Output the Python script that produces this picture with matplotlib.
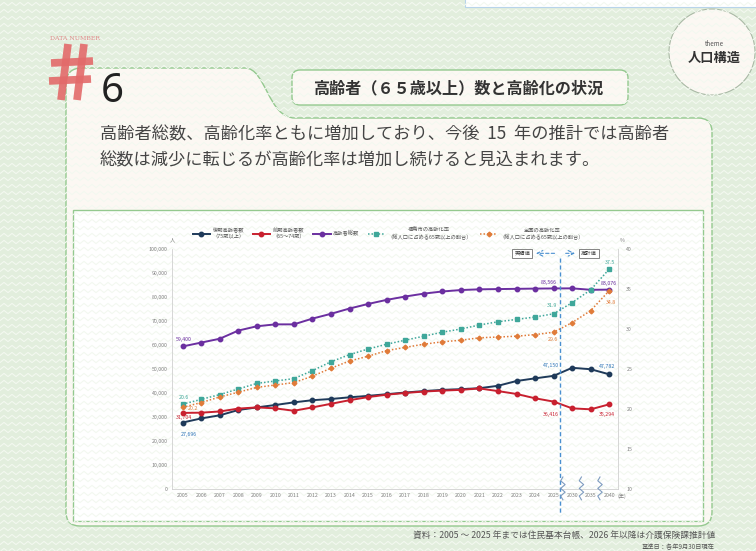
# Elderly population and aging rate chart (infographic page #6)
import numpy as np
import matplotlib.pyplot as plt
import matplotlib.transforms as mtransforms
from matplotlib.path import Path
from matplotlib.patches import PathPatch, FancyBboxPatch, Rectangle, Circle
from matplotlib.lines import Line2D
from matplotlib.collections import LineCollection

plt.rcParams['font.family'] = ['Noto Sans CJK JP', 'DejaVu Sans']

# data
years = ['2005', '2006', '2007', '2008', '2009', '2010', '2011', '2012', '2013', '2014',
         '2015', '2016', '2017', '2018', '2019', '2020', '2021', '2022', '2023', '2024',
         '2025', '2030', '2035', '2040']
late_elderly = [27696, 29400, 30700, 32900, 34000, 35000, 36100, 37000, 37500, 38200,
                38800, 39500, 40200, 40800, 41300, 41600, 42000, 43000, 45000, 46100,
                47150, 50500, 49900, 47782]
early_elderly = [31704, 31800, 32300, 33500, 34000, 33600, 32600, 34000, 35500, 37000,
                 38300, 39300, 40000, 40600, 41000, 41300, 41900, 40800, 39600, 37800,
                 36416, 33600, 33200, 35294]
elderly_total = [59400, 61000, 62600, 66000, 67800, 68600, 68600, 71000, 73000, 75200,
                 77100, 78800, 80200, 81400, 82300, 82900, 83200, 83300, 83400, 83500,
                 83566, 83600, 83000, 83076]
city_rate = [20.6, 21.2, 21.8, 22.5, 23.2, 23.5, 23.8, 24.8, 25.9, 26.8,
             27.5, 28.1, 28.6, 29.1, 29.6, 30.0, 30.5, 30.9, 31.2, 31.5,
             31.9, 33.3, 34.9, 37.5]
national_rate = [20.2, 20.8, 21.5, 22.1, 22.7, 23.0, 23.3, 24.1, 25.1, 26.0,
                 26.6, 27.3, 27.7, 28.1, 28.4, 28.6, 28.9, 29.0, 29.1, 29.3,
                 29.6, 30.8, 32.3, 34.8]
series_names = ['後期高齢者数\n（75歳以上）', '前期高齢者数\n（65～74歳）', '高齢者総数',
                '福島市の高齢化率\n（総人口に占める65歳以上の割合）',
                '全国の高齢化率\n（総人口に占める65歳以上の割合）']

NAVY = '#1f3a5a'
RED = '#c8202f'
PURPLE = '#6b2fa0'
TEAL = '#3fa79a'
ORANGE = '#e07b39'
LBLUE = '#2e75b6'
GREEN = '#94c98f'
CREAM = '#fcf8f3'

fig = plt.figure(figsize=(7.56, 5.51), dpi=100)

# background layer in pixel coordinates
bg = fig.add_axes([0, 0, 1, 1], zorder=0)
bg.set_xlim(0, 756)
bg.set_ylim(551, 0)
bg.axis('off')
bg.add_patch(Rectangle((0, 0), 756, 551, facecolor='#e2eedd', edgecolor='none'))
segs = []
zx = np.arange(-4, 764, 4)
for ry in np.arange(-3, 560, 7):
    zy = ry + np.where(np.arange(len(zx)) % 2 == 0, -1.6, 1.6)
    segs.append(np.column_stack([zx, zy]))
bg.add_collection(LineCollection(segs, colors='#f3f8f0', linewidths=0.8))
bg.add_patch(Rectangle((465, -3), 300, 10, facecolor='white', edgecolor='#b8d4ea', lw=0.8))

# cream card with tab
verts = [(66, 84), (66, 68), (82, 68), (245, 68), (266, 68), (268, 118), (295, 118),
         (698, 118), (712, 118), (712, 132), (712, 512), (712, 526), (698, 526),
         (80, 526), (66, 526), (66, 512), (66, 84)]
codes = [Path.MOVETO, Path.CURVE3, Path.CURVE3, Path.LINETO, Path.CURVE4, Path.CURVE4,
         Path.CURVE4, Path.LINETO, Path.CURVE3, Path.CURVE3, Path.LINETO, Path.CURVE3,
         Path.CURVE3, Path.LINETO, Path.CURVE3, Path.CURVE3, Path.CLOSEPOLY]
bg.add_patch(PathPatch(Path(verts, codes), facecolor=CREAM, edgecolor=GREEN, lw=1))

# title box
bg.add_patch(FancyBboxPatch((292, 70), 336, 35, boxstyle='round,pad=0,rounding_size=8',
                            facecolor=CREAM, edgecolor=GREEN, lw=1))
bg.text(458, 88, '高齢者（６５歳以上）数と高齢化の状況', fontsize=11.6, fontweight='bold',
        color='#333333', ha='center', va='center')

# "#" mark and number
for (x0, y0, x1, y1) in [(68, 44, 61, 100), (84, 44, 77, 100), (51, 63, 93, 61), (49, 81, 91, 79)]:
    bg.plot([x0, x1], [y0, y1], color='#e36a6a', lw=5.5, solid_capstyle='butt', alpha=0.9)
bg.text(50, 38, 'DATA NUMBER', fontsize=4.5, color='#e08a8a', family='DejaVu Serif',
        ha='left', va='center')
bg.text(112, 92, '6', fontsize=29, color='#222222', family='Noto Sans', ha='center', va='center')

# theme circle
bg.add_patch(Circle((712, 52), 43, facecolor=CREAM, edgecolor='#a9b9a5', lw=0.8))
bg.text(714, 44, 'theme', fontsize=4.5, color='#555555', ha='center', va='center')
bg.text(714, 58, '人口構造', fontsize=9.5, fontweight='bold', color='#333333',
        ha='center', va='center')

# body text
bg.text(100, 134, '高齢者総数、高齢化率ともに増加しており、今後  15  年の推計では高齢者',
        fontsize=12.4, color='#444444', ha='left', va='center')
bg.text(100, 160, '総数は減少に転じるが高齢化率は増加し続けると見込まれます。',
        fontsize=12.4, color='#444444', ha='left', va='center')

# chart frame
bg.add_patch(Rectangle((73, 210), 630, 311, facecolor='white', edgecolor=GREEN, lw=1))
bg.text(172, 240, '人', fontsize=3.8, color='#808080', ha='center', va='center')
bg.text(622, 240, '%', fontsize=3.8, color='#808080', ha='center', va='center')

# source
bg.text(715, 535, '資料：2005 ～ 2025 年までは住民基本台帳、2026 年以降は介護保険課推計値',
        fontsize=6.3, color='#555555', ha='right', va='center')
bg.text(715, 547, '基準日：各年9月30日現在', fontsize=4.5, color='#555555',
        ha='right', va='center')

# main chart
ax = fig.add_axes([172 / 756, 1 - 489 / 551, (618 - 172) / 756, 240 / 551], zorder=2)
ax.patch.set_alpha(0)
x = np.arange(len(years))
ax.set_xlim(-0.57, 23.47)
ax.set_ylim(0, 100000)
ax2 = ax.twinx()
ax2.set_ylim(10, 40)

ax.plot(x, late_elderly, color=NAVY, lw=1.4, marker='o', ms=3.2, zorder=3)
ax.plot(x, early_elderly, color=RED, lw=1.4, marker='o', ms=3.2, zorder=3)
ax.plot(x, elderly_total, color=PURPLE, lw=1.4, marker='o', ms=3.2, zorder=3)
ax2.plot(x, city_rate, color=TEAL, lw=1.1, ls=(0, (1, 1.3)), marker='s', ms=3.2)
ax2.plot(x, national_rate, color=ORANGE, lw=1.1, ls=(0, (1, 1.3)), marker='D', ms=2.4)

ax.set_xticks(x)
ax.set_xticklabels(years)
ax.set_yticks(range(0, 100001, 10000))
ax.set_yticklabels([f'{v:,}' for v in range(0, 100001, 10000)])
ax.tick_params(axis='both', length=0, labelsize=3.8, colors='#808080', pad=3)
ax2.set_yticks(range(10, 41, 5))
ax2.tick_params(axis='y', length=0, labelsize=3.8, colors='#808080', pad=6)
for a in (ax, ax2):
    for s in a.spines.values():
        s.set_color('#d0d0d0')
        s.set_linewidth(0.6)
    a.spines['top'].set_visible(False)
ax.spines['right'].set_visible(False)
ax2.spines['left'].set_visible(False)
ax2.spines['bottom'].set_visible(False)

trans = mtransforms.blended_transform_factory(ax.transData, ax.transAxes)
ax.text(x[-1] + 0.45, -0.0, '(年)', fontsize=3.8, color='#808080', ha='left', va='top',
        transform=trans + mtransforms.ScaledTranslation(0, -3 / 72, fig.dpi_scale_trans))


def label(a, i, vals, txt, dx, dy, color):
    a.annotate(txt, (x[i], vals[i]), xytext=(dx, dy), textcoords='offset pixels',
               fontsize=3.8, color=color, ha='center', va='center', zorder=6)


label(ax, 0, elderly_total, '59,400', 1, 7, PURPLE)
label(ax2, 0, city_rate, '20.6', 1, 7, TEAL)
label(ax2, 0, national_rate, '20.2', 10, -1, ORANGE)
label(ax, 0, early_elderly, '31,704', 1, -5, RED)
label(ax, 0, late_elderly, '27,696', 6, -12, LBLUE)
label(ax, 20, elderly_total, '83,566', -5, 6, PURPLE)
label(ax, 23, elderly_total, '83,076', 0, 6, PURPLE)
label(ax2, 20, city_rate, '31.9', -2, 8, TEAL)
label(ax2, 23, city_rate, '37.5', 1, 6, TEAL)
label(ax2, 20, national_rate, '29.6', -1, -7, ORANGE)
label(ax2, 23, national_rate, '34.8', 2, -12, ORANGE)
label(ax, 20, late_elderly, '47,150', -3, 10, LBLUE)
label(ax, 23, late_elderly, '47,782', -2, 8, LBLUE)
label(ax, 20, early_elderly, '36,416', -3, -13, RED)
label(ax, 23, early_elderly, '35,294', -2, -10, RED)

# actual / projected divider
split = 20.35
ax.plot([split, split], [0.962, -0.11], transform=trans, color='#4a90d0', lw=1,
        ls=(0, (3, 2)), clip_on=False, zorder=5)
ax.annotate('', xy=(18.9, 0.982), xytext=(split - 0.15, 0.982), xycoords=trans,
            textcoords=trans, arrowprops=dict(arrowstyle='->', color='#4a90d0', lw=0.8,
                                              ls=(0, (3, 2))))
ax.annotate('', xy=(21.3, 0.982), xytext=(split + 0.15, 0.982), xycoords=trans,
            textcoords=trans, arrowprops=dict(arrowstyle='->', color='#4a90d0', lw=0.8,
                                              ls=(0, (3, 2))))
box = dict(boxstyle='square,pad=0.35', fc='white', ec='#555555', lw=0.5)
ax.text(18.3, 0.982, '実績値', transform=trans, fontsize=3.8, color='#333333',
        ha='center', va='center', bbox=box)
ax.text(21.9, 0.982, '推計値', transform=trans, fontsize=3.8, color='#333333',
        ha='center', va='center', bbox=box)

# axis break marks
for xb in (20.5, 21.5, 22.5):
    zy = np.linspace(0.05, -0.045, 7)
    zxs = xb + np.array([0, -0.12, 0.12, -0.12, 0.12, -0.12, 0])
    ax.plot(zxs, zy, transform=trans, color='#7f9cc0', lw=0.8, clip_on=False, zorder=5)

# legend
handles = [
    Line2D([], [], color=NAVY, lw=1.4, marker='o', ms=3.2),
    Line2D([], [], color=RED, lw=1.4, marker='o', ms=3.2),
    Line2D([], [], color=PURPLE, lw=1.4, marker='o', ms=3.2),
    Line2D([], [], color=TEAL, lw=1.1, ls=(0, (1, 1.3)), marker='s', ms=3.2),
    Line2D([], [], color=ORANGE, lw=1.1, ls=(0, (1, 1.3)), marker='D', ms=2.4),
]
leg = ax.legend(handles, series_names, loc='upper left', bbox_to_anchor=(190, 225),
                bbox_transform=bg.transData, ncol=5, frameon=False, fontsize=3.8,
                handlelength=3.3, handletextpad=0.4, columnspacing=1.6, borderpad=0)
for t in leg.get_texts():
    t.set_color('#555555')
    t.set_multialignment('center')

fig.savefig('out.png', dpi=100)
